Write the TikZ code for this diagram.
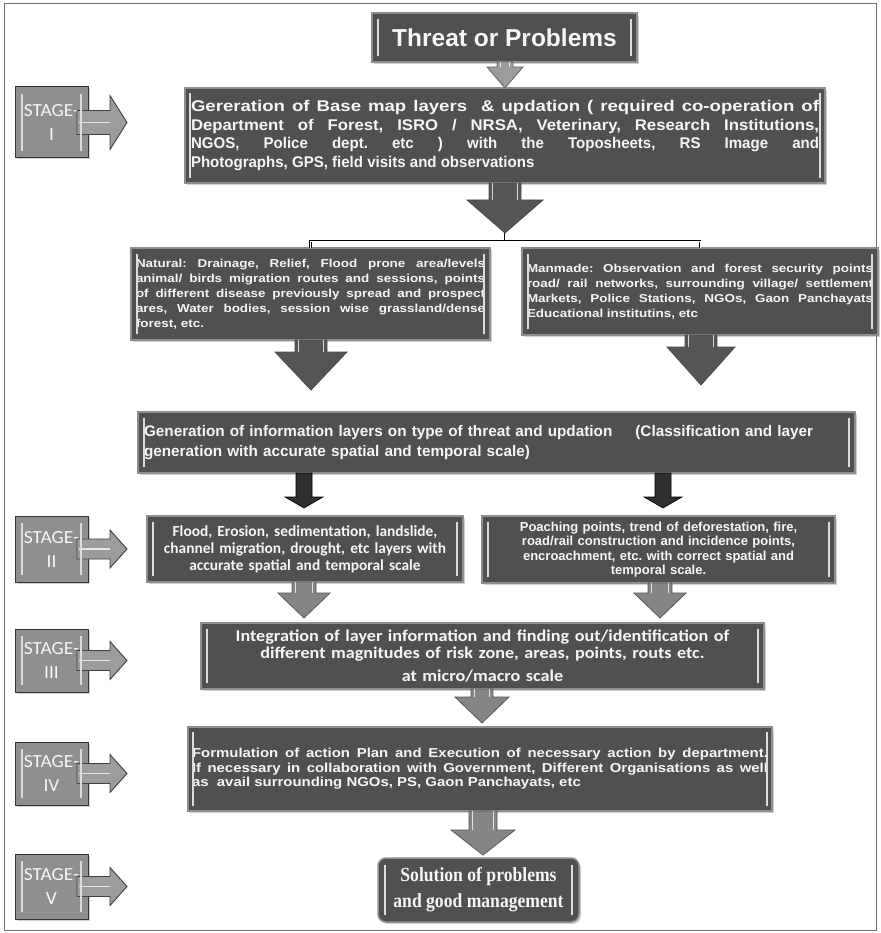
\documentclass[tikz,border=0pt]{standalone}
\usepackage{fontspec}
\setmainfont{Liberation Sans}
\usetikzlibrary{calc,shadows}

% font families used in the chart
\newfontfamily\titlefont{Liberation Sans}
\newfontfamily\basewide{Liberation Sans}[FakeStretch=1.2]
\newfontfamily\basemid{Liberation Sans}[FakeStretch=1.08]
\newfontfamily\basenarrow{Liberation Sans}[FakeStretch=0.97]
\newfontfamily\widefont{Liberation Sans}[FakeStretch=1.17]
\newfontfamily\actfont{Liberation Sans}[FakeStretch=1.15]
\newfontfamily\calfont{Carlito}
\newfontfamily\calwide{Carlito}[FakeStretch=1.1]
\newfontfamily\stagefont{Carlito}[FakeStretch=1.05]
\newfontfamily\solfont{Liberation Serif}[FakeStretch=0.88]

\definecolor{boxfill}{HTML}{505050}
\definecolor{boxrim}{HTML}{8E8E8E}
\definecolor{stagefill}{HTML}{8F8F8F}
\definecolor{stagerim}{HTML}{353535}
\definecolor{hilitecol}{HTML}{DCDCDC}
\definecolor{txt}{HTML}{F6F6F6}
\definecolor{arrowgray}{HTML}{858585}
\definecolor{arrowlight}{HTML}{9C9C9C}
\definecolor{arrowdark}{HTML}{555555}
\definecolor{arrowblack}{HTML}{2F2F2F}
\definecolor{framecol}{HTML}{6E6E6E}

\hyphenpenalty=10000
\exhyphenpenalty=10000
\tolerance=9999
\frenchspacing

% outline of a downward block arrow: [style]{tail}{tip}{shaft half width}{head half width}{head length}
\newcommand\vblockplain[6][]{%
  \path[#1] let \p1=(#2), \p2=(#3) in
    (\x2-#4pt,\y1) -- (\x2+#4pt,\y1) -- (\x2+#4pt,\y2+#6pt) -- (\x2+#5pt,\y2+#6pt)
    -- (\x2,\y2) -- (\x2-#5pt,\y2+#6pt) -- (\x2-#4pt,\y2+#6pt) -- cycle;
}
% the same arrow with two light strokes along its shaft
\newcommand\vblock[6][]{%
  \vblockplain[#1]{#2}{#3}{#4}{#5}{#6}%
  \draw[shaftline] let \p1=(#2), \p2=(#3) in
    (\x2-#4pt+3.5pt,\y1) -- (\x2-#4pt+3.5pt,\y2+#6pt)
    (\x2+#4pt-3.5pt,\y1) -- (\x2+#4pt-3.5pt,\y2+#6pt);
}
% horizontal block arrow leaving a stage label: [style]{label east}{tip}{shaft half}{head half}{head length}
\newcommand\hblock[6][]{%
  \path[#1] let \p1=(#2), \p2=(#3) in
    (\x1-11pt,\y2+#4pt) -- (\x2-#6pt,\y2+#4pt) -- (\x2-#6pt,\y2+#5pt) -- (\x2,\y2)
    -- (\x2-#6pt,\y2-#5pt) -- (\x2-#6pt,\y2-#4pt) -- (\x1-11pt,\y2-#4pt) -- cycle;
  \draw[shaftline] let \p1=(#2), \p2=(#3) in
    (\x1-9pt,\y2) -- (\x2-#6pt,\y2);
}
% light bevel strokes inside a box
\newcommand\bevel[2]{%
  \draw[hilite] ([xshift=#2pt,yshift=-#2pt]#1.north west) -- ([xshift=#2pt,yshift=#2pt]#1.south west);
  \draw[hilite] ([xshift=-#2pt,yshift=-#2pt]#1.north east) -- ([xshift=-#2pt,yshift=#2pt]#1.south east);
}

\begin{document}
\begin{tikzpicture}[x=1pt,y=-1pt,
  mainbox/.style={draw=boxrim, line width=1.5pt, fill=boxfill, text=txt,
    anchor=north west, inner ysep=0pt, outer sep=0pt,
    drop shadow={shadow xshift=2pt, shadow yshift=-2pt, fill=black!45, opacity=0.4}},
  stagebox/.style={draw=stagerim, line width=1pt, fill=stagefill, text=txt,
    anchor=north west, minimum width=73pt, inner sep=0pt, outer sep=0pt, align=center,
    font=\stagefont\fontsize{18.5}{24}\selectfont,
    drop shadow={shadow xshift=1.5pt, shadow yshift=-1.5pt, fill=black!45, opacity=0.4}},
  hilite/.style={draw=hilitecol, line width=1.7pt},
  shaftline/.style={draw=white, line width=1.1pt, opacity=0.75},
  conn/.style={draw=black, line width=0.9pt, double=white, double distance=0.8pt},
  lightarrow/.style={fill=arrowlight, draw=black!60, line width=0.8pt},
  grayarrow/.style={fill=arrowgray, draw=black!65, line width=0.8pt},
  darkarrow/.style={fill=arrowdark, draw=black!70, line width=0.8pt},
  blackarrow/.style={fill=arrowblack, draw=black, line width=0.6pt},
  sidearrow/.style={fill=arrowlight, draw=black!75, line width=0.9pt},
]
\useasboundingbox (0,0) rectangle (880,933);
\fill[white] (0,0) rectangle (880,933);
\draw[framecol, line width=1pt] (4,4) rectangle (876,930);

% ---------- main boxes ----------
\node[mainbox, minimum width=265pt, minimum height=49pt, align=center,
  font=\titlefont\bfseries\fontsize{24.5}{28}\selectfont] (title) at (372,13) {Threat or Problems};

\node[mainbox, minimum width=640pt, minimum height=95pt, inner xsep=6pt, text width=628pt, align=justify,
  font=\bfseries\fontsize{15.5}{18.5}\selectfont] (base) at (185,88)
  {{\basewide Gereration of Base map layers \ \& updation ( required co-operation of}\linebreak
   {\basemid Department of Forest, ISRO / NRSA, Veterinary, Research Institutions,}\linebreak
   {\basenarrow NGOS, Police dept. etc ) with the Toposheets, RS Image and}\linebreak
   {\basenarrow Photographs, GPS, field visits and observations}};

\node[mainbox, minimum width=359pt, minimum height=92pt, inner xsep=5pt, text width=349pt, align=justify,
  font=\widefont\bfseries\fontsize{11.5}{15}\selectfont] (natural) at (131,248)
  {Natural: Drainage, Relief, Flood prone area/levels\linebreak
   animal/ birds migration routes and sessions, points\linebreak
   of different disease previously spread and prospect\linebreak
   ares, Water bodies, session wise grassland/dense\linebreak
   forest, etc.};

\node[mainbox, minimum width=356pt, minimum height=87pt, inner xsep=5pt, text width=346pt, align=justify,
  font=\widefont\bfseries\fontsize{11.5}{15}\selectfont] (manmade) at (522,248)
  {Manmade: Observation and forest security points\linebreak
   road/ rail networks, surrounding village/ settlement\linebreak
   Markets, Police Stations, NGOs, Gaon Panchayats\linebreak
   Educational institutins, etc};

\node[mainbox, minimum width=717pt, minimum height=61pt, inner xsep=6pt, text width=705pt, align=left,
  font=\titlefont\bfseries\fontsize{15.3}{20.5}\selectfont] (info) at (138,412)
  {Generation of information layers on type of threat and updation\hspace*{23pt}(Classification and layer\\
   generation with accurate spatial and temporal scale)};

\node[mainbox, minimum width=316pt, minimum height=66pt, inner xsep=6pt, text width=304pt, align=center,
  font=\calfont\bfseries\fontsize{15.4}{17}\selectfont] (s2l) at (147,516)
  {Flood, Erosion, sedimentation, landslide,\\
   channel migration, drought, etc layers with\\
   accurate spatial and temporal scale};

\node[mainbox, minimum width=353pt, minimum height=67pt, inner xsep=6pt, text width=341pt, align=center,
  font=\titlefont\bfseries\fontsize{13}{14.3}\selectfont] (s2r) at (482,516)
  {Poaching points, trend of deforestation, fire,\\
   road/rail construction and incidence points,\\
   encroachment, etc. with correct spatial and\\
   temporal scale.};

\node[mainbox, minimum width=563pt, minimum height=66pt, inner xsep=6pt, text width=551pt, align=center,
  font=\calwide\bfseries\fontsize{16.5}{17.5}\selectfont] (s3) at (201,623)
  {Integration of layer information and finding out/identification of\\
   different magnitudes of risk zone, areas, points, routs etc.\\[5pt]
   at micro/macro scale};

\node[mainbox, minimum width=584pt, minimum height=84pt, inner xsep=4pt, text width=576pt, align=justify,
  font=\actfont\bfseries\fontsize{13}{14.5}\selectfont] (s4) at (188,727)
  {Formulation of action Plan and Execution of necessary action by department.\linebreak
   If necessary in collaboration with Government, Different Organisations as well\linebreak
   as \ avail surrounding NGOs, PS, Gaon Panchayats, etc};

\node[mainbox, rounded corners=8pt, minimum width=201pt, minimum height=64pt, align=center,
  font=\solfont\bfseries\fontsize{20}{26}\selectfont] (sol) at (378,858)
  {Solution of problems\\ and good management};

% ---------- stage labels ----------
\node[stagebox, minimum height=71pt] (st1) at (15,87)  {STAGE-\\I};
\node[stagebox, minimum height=66pt] (st2) at (15,516) {STAGE-\\II};
\node[stagebox, minimum height=63pt] (st3) at (15,629) {STAGE-\\III};
\node[stagebox, minimum height=63pt] (st4) at (15,742) {STAGE-\\IV};
\node[stagebox, minimum height=65pt] (st5) at (15,854) {STAGE-\\V};

% ---------- arrow tips and junctions ----------
\coordinate (split) at (505,233);
\coordinate (bus)   at (505,241);
\coordinate (tipN)  at (311,390);
\coordinate (tipM)  at (701,385);
\coordinate (tipBL) at (304,508);
\coordinate (tipBR) at (663,508);
\coordinate (tipL2) at (304,618);
\coordinate (tipR2) at (660,618);
\coordinate (tip3)  at (482,723);
\coordinate (tip4)  at (483,855);
\coordinate (side1) at (127,122.5);
\coordinate (side2) at (127,549);
\coordinate (side3) at (127,660.5);
\coordinate (side4) at (127,773.5);
\coordinate (side5) at (127,886.5);

% ---------- connectors ----------
\draw[conn] (split) -- (bus) -| (natural.north);
\draw[conn] (bus) -| (manmade.north);

\vblock[lightarrow]{title.south}{base.north}{8}{18}{21}
\vblock[darkarrow]{base.south}{split}{16}{38}{33}
\vblock[darkarrow]{natural.south}{tipN}{16}{36}{38}
\vblock[darkarrow]{manmade.south}{tipM}{16}{34}{38}
\vblockplain[blackarrow]{info.south}{tipBL}{8}{19}{11}
\vblockplain[blackarrow]{info.south}{tipBR}{8}{19}{11}
\vblock[grayarrow]{s2l.south}{tipL2}{12}{26}{25}
\vblock[grayarrow]{s2r.south}{tipR2}{12}{26}{25}
\vblock[grayarrow]{s3.south}{tip3}{11}{27}{26}
\vblock[grayarrow]{s4.south}{tip4}{14}{32}{25}

\hblock[sidearrow]{st1.east}{side1}{12}{27}{17}
\hblock[sidearrow]{st2.east}{side2}{10}{19}{17}
\hblock[sidearrow]{st3.east}{side3}{10}{19}{17}
\hblock[sidearrow]{st4.east}{side4}{10}{19}{17}
\hblock[sidearrow]{st5.east}{side5}{10}{19}{17}

% ---------- bevel highlights ----------
\bevel{title}{6}
\bevel{base}{5}
\bevel{natural}{6}
\bevel{manmade}{6}
\bevel{info}{6}
\bevel{s2l}{6}
\bevel{s2r}{6}
\bevel{s3}{6}
\bevel{s4}{5}
\bevel{sol}{7}
\bevel{st1}{7}
\bevel{st2}{7}
\bevel{st3}{7}
\bevel{st4}{7}
\bevel{st5}{7}
\end{tikzpicture}
\end{document}
